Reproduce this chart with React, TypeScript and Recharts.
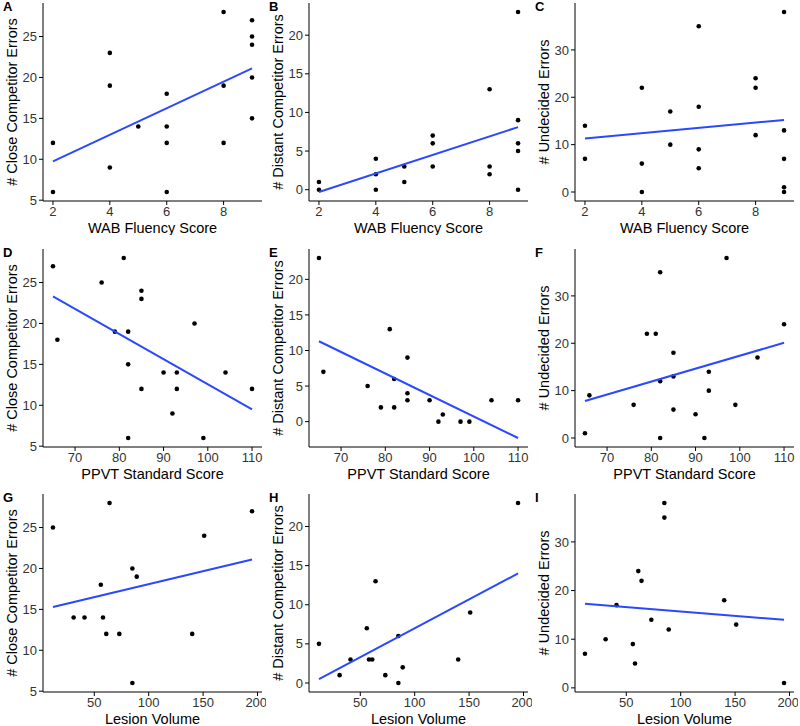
import React from 'react';
import { ScatterChart, Scatter, XAxis, YAxis } from 'recharts';

type Pt = { x: number; y: number };

// x values shared by each row of panels
const wabScores = [2, 2, 4, 4, 4, 5, 6, 6, 6, 6, 8, 8, 8, 9, 9, 9, 9, 9];
const wabScoresB = [2, 2, 4, 4, 4, 5, 5, 6, 6, 6, 8, 8, 8, 9, 9, 9, 9, 9];
const wabScoresC = [2, 2, 4, 4, 4, 5, 5, 6, 6, 6, 6, 8, 8, 8, 9, 9, 9, 9, 9];
const closeByWab = [12, 6, 23, 19, 9, 14, 18, 14, 12, 6, 28, 19, 12, 27, 25, 24, 20, 15];
const distantByWab = [1, 0, 4, 2, 0, 3, 1, 7, 6, 3, 13, 3, 2, 23, 9, 6, 5, 0];
const undecidedByWab = [14, 7, 22, 6, 0, 17, 10, 35, 18, 9, 5, 24, 22, 12, 38, 13, 7, 1, 0];

const ppvtD = [65, 66, 76, 79, 81, 82, 82, 82, 85, 85, 85, 90, 92, 93, 93, 97, 99, 104, 110];
const closeByPpvt = [27, 18, 25, 19, 28, 19, 15, 6, 24, 23, 12, 14, 9, 14, 12, 20, 6, 14, 12];
const ppvtE = [65, 66, 76, 79, 81, 82, 82, 85, 85, 85, 90, 92, 93, 97, 99, 104, 110];
const distantByPpvt = [23, 7, 5, 2, 13, 6, 2, 9, 4, 3, 3, 0, 1, 0, 0, 3, 3];
const ppvtF = [65, 66, 76, 79, 81, 82, 82, 82, 85, 85, 85, 90, 92, 93, 93, 97, 99, 104, 110];
const undecidedByPpvt = [1, 9, 7, 22, 22, 35, 12, 0, 18, 13, 6, 5, 0, 14, 10, 38, 7, 17, 24];

const lesionVolume = [12, 31, 41, 56, 58, 61, 64, 73, 85, 85, 89, 140, 151, 195];
const closeByLesion = [25, 14, 14, 18, 14, 12, 28, 12, 20, 6, 19, 12, 24, 27];
const distantByLesion = [5, 1, 3, 7, 3, 3, 13, 1, 6, 0, 2, 3, 9, 23];
const undecidedByLesion = [7, 10, 17, 9, 5, 24, 22, 14, 38, 35, 12, 18, 13, 1];

// fitted line ends [x0, y0, x1, y1]
const fitA = [2, 9.75, 9, 21.1];
const fitB = [2, -0.3, 9, 8.1];
const fitC = [2, 11.3, 9, 15.2];
const fitD = [65, 23.3, 110, 9.5];
const fitE = [65, 11.3, 110, -2.3];
const fitF = [65, 7.8, 110, 20.1];
const fitG = [12, 15.3, 195, 21.1];
const fitH = [12, 0.5, 195, 14];
const fitI = [12, 17.3, 195, 14];

const wabTicks = [2, 4, 6, 8];
const ppvtTicks = [70, 80, 90, 100, 110];
const lesionTicks = [50, 100, 150, 200];
const closeTicks = [5, 10, 15, 20, 25];
const distantTicks = [0, 5, 10, 15, 20];
const undecidedTicks = [0, 10, 20, 30];

const FONT = '"Liberation Sans", Arial, Helvetica, sans-serif';
const LINE = '#2a48ff';

const zip = (xs: number[], ys: number[]): Pt[] => xs.map((x, i) => ({ x, y: ys[i] }));

// ggplot style 5% padding
const pad = (vals: number[]): [number, number] => {
  const lo = Math.min(...vals);
  const hi = Math.max(...vals);
  const e = (hi - lo) * 0.05;
  return [lo - e, hi + e];
};

type PanelProps = {
  letter: string;
  left: number;
  top: number;
  points: Pt[];
  fit: number[];
  xTicks: number[];
  yTicks: number[];
  xLabel: string;
  yLabel: string;
};

const Dot = (props: any) => <circle cx={props.cx} cy={props.cy} r={2.3} fill="#000" />;
const NoDot = () => <g />;

const Panel = ({ letter, left, top, points, fit, xTicks, yTicks, xLabel, yLabel }: PanelProps) => {
  const line: Pt[] = [
    { x: fit[0], y: fit[1] },
    { x: fit[2], y: fit[3] },
  ];
  const xDomain = pad([...points.map((p) => p.x), fit[0], fit[2]]);
  const yDomain = pad([...points.map((p) => p.y), fit[1], fit[3]]);
  const tick = { fill: '#333', fontSize: 13, fontFamily: FONT };
  return (
    <div style={{ position: 'absolute', left, top, width: 266, height: 235 }}>
      <ScatterChart width={266} height={235} margin={{ top: 3, right: 4, bottom: 0, left: 0 }}>
        <XAxis
          type="number"
          dataKey="x"
          domain={xDomain}
          ticks={xTicks}
          allowDataOverflow
          height={34}
          stroke="#000"
          tickSize={4}
          tick={tick}
          label={{ value: xLabel, position: 'insideBottom', offset: 2, fill: '#000', fontSize: 14.5, fontFamily: FONT }}
        />
        <YAxis
          type="number"
          dataKey="y"
          domain={yDomain}
          ticks={yTicks}
          allowDataOverflow
          width={43}
          stroke="#000"
          tickSize={4}
          tick={tick}
          label={{
            value: yLabel,
            angle: -90,
            position: 'insideLeft',
            offset: 12,
            fill: '#000',
            fontSize: 14.5,
            fontFamily: FONT,
            style: { textAnchor: 'middle' },
          }}
        />
        <Scatter data={points} shape={Dot} isAnimationActive={false} />
        <Scatter data={line} shape={NoDot} line={{ stroke: LINE, strokeWidth: 2 }} isAnimationActive={false} />
      </ScatterChart>
      <div
        style={{
          position: 'absolute',
          left: 3,
          top: 0,
          fontFamily: FONT,
          fontWeight: 'bold',
          fontSize: 13,
          lineHeight: '14px',
        }}
      >
        {letter}
      </div>
    </div>
  );
};

export default function App() {
  const cols = [0, 266, 532];
  const rows = [0, 246, 491];
  return (
    <div style={{ position: 'absolute', left: 0, top: 0, width: 800, height: 726, background: '#fff', overflow: 'hidden' }}>
      <Panel letter="A" left={cols[0]} top={rows[0]} points={zip(wabScores, closeByWab)} fit={fitA} xTicks={wabTicks} yTicks={closeTicks} xLabel="WAB Fluency Score" yLabel="# Close Competitor Errors" />
      <Panel letter="B" left={cols[1]} top={rows[0]} points={zip(wabScoresB, distantByWab)} fit={fitB} xTicks={wabTicks} yTicks={distantTicks} xLabel="WAB Fluency Score" yLabel="# Distant Competitor Errors" />
      <Panel letter="C" left={cols[2]} top={rows[0]} points={zip(wabScoresC, undecidedByWab)} fit={fitC} xTicks={wabTicks} yTicks={undecidedTicks} xLabel="WAB Fluency Score" yLabel="# Undecided Errors" />
      <Panel letter="D" left={cols[0]} top={rows[1]} points={zip(ppvtD, closeByPpvt)} fit={fitD} xTicks={ppvtTicks} yTicks={closeTicks} xLabel="PPVT Standard Score" yLabel="# Close Competitor Errors" />
      <Panel letter="E" left={cols[1]} top={rows[1]} points={zip(ppvtE, distantByPpvt)} fit={fitE} xTicks={ppvtTicks} yTicks={distantTicks} xLabel="PPVT Standard Score" yLabel="# Distant Competitor Errors" />
      <Panel letter="F" left={cols[2]} top={rows[1]} points={zip(ppvtF, undecidedByPpvt)} fit={fitF} xTicks={ppvtTicks} yTicks={undecidedTicks} xLabel="PPVT Standard Score" yLabel="# Undecided Errors" />
      <Panel letter="G" left={cols[0]} top={rows[2]} points={zip(lesionVolume, closeByLesion)} fit={fitG} xTicks={lesionTicks} yTicks={closeTicks} xLabel="Lesion Volume" yLabel="# Close Competitor Errors" />
      <Panel letter="H" left={cols[1]} top={rows[2]} points={zip(lesionVolume, distantByLesion)} fit={fitH} xTicks={lesionTicks} yTicks={distantTicks} xLabel="Lesion Volume" yLabel="# Distant Competitor Errors" />
      <Panel letter="I" left={cols[2]} top={rows[2]} points={zip(lesionVolume, undecidedByLesion)} fit={fitI} xTicks={lesionTicks} yTicks={undecidedTicks} xLabel="Lesion Volume" yLabel="# Undecided Errors" />
    </div>
  );
}
